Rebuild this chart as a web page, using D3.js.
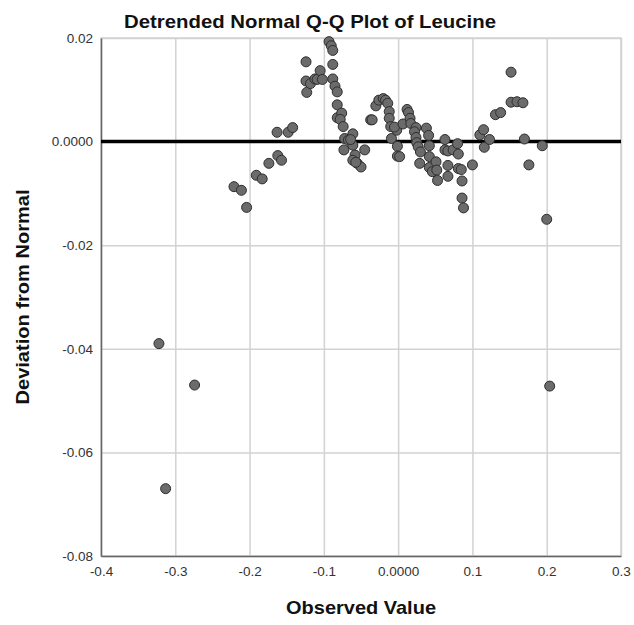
<!DOCTYPE html>
<html>
<head>
<meta charset="utf-8">
<script src="https://cdn.jsdelivr.net/npm/d3@7"></script>
<style>
  html, body { margin: 0; padding: 0; background: #fff; overflow: hidden; }
  svg { display: block; }
  text { font-family: "Liberation Sans", Arial, sans-serif; }
</style>
</head>
<body>
<svg></svg>
<script>
const width = 634;
const height = 625;

const observed = [
	-0.322, -0.313, -0.274,
	-0.221, -0.211, -0.204, -0.191, -0.183, -0.174, -0.162, -0.157, -0.163, -0.148, -0.142,
	-0.124, -0.124, -0.123, -0.118, -0.112, -0.109, -0.105, -0.102,
	-0.093, -0.090, -0.088, -0.088, -0.088, -0.085, -0.082, -0.082, -0.082, -0.076, -0.078, -0.074,
	-0.072, -0.067, -0.061, -0.061, -0.073, -0.058, -0.061, -0.055, -0.050, -0.045, -0.064, -0.057,
	-0.037, -0.035, -0.030, -0.026, -0.020, -0.017, -0.014, -0.012, -0.012, -0.010, -0.009, -0.002,
	-0.001, -0.001, -0.005, 0.002, 0.0065, 0.012, 0.014, 0.016, 0.017, 0.024, 0.022, 0.024,
	0.025, 0.027, 0.030, 0.029, 0.038, 0.041, 0.042, 0.042, 0.042, 0.046, 0.051, 0.052,
	0.053, 0.063, 0.063, 0.067, 0.067, 0.067, 0.074, 0.080, 0.081, 0.081, 0.085, 0.086,
	0.086, 0.088, 0.100,
	0.110, 0.115, 0.116, 0.123, 0.131, 0.138, 0.152, 0.152, 0.160, 0.168, 0.170, 0.176,
	0.194, 0.200, 0.204
];
const deviation = [
	-0.0390, -0.0670, -0.0470,
	-0.0087, -0.0094, -0.0127, -0.0065, -0.0072, -0.0042, -0.0027, -0.0036, 0.0018, 0.0018, 0.0027,
	0.0154, 0.0117, 0.0095, 0.0112, 0.0121, 0.0120, 0.0137, 0.0120,
	0.0193, 0.0185, 0.0176, 0.0149, 0.0121, 0.0107, 0.0096, 0.0071, 0.0046, 0.0055, 0.0043, 0.0029,
	0.0006, 0.0003, 0.0015, -0.0007, -0.0016, -0.0026, -0.0036, -0.0042, -0.0049, -0.0016, 0.0004, -0.0040,
	0.0042, 0.0042, 0.0069, 0.0080, 0.0083, 0.0080, 0.0074, 0.0058, 0.0045, 0.0029, 0.0006, 0.0022,
	-0.0009, -0.0028, 0.0028, -0.0029, 0.0034, 0.0062, 0.0056, 0.0045, 0.0035, 0.0027, 0.0019, 0.0008,
	-0.0002, -0.0010, -0.0020, -0.0042, 0.0026, 0.0012, -0.0008, -0.0029, -0.0050, -0.0058, -0.0039, -0.0055,
	-0.0075, 0.0004, -0.0016, -0.0018, -0.0046, -0.0067, -0.0016, -0.0004, -0.0024, -0.0052, -0.0054, -0.0076,
	-0.0109, -0.0128, -0.0045,
	0.0013, 0.0023, -0.0011, 0.0004, 0.0052, 0.0056, 0.0134, 0.0076, 0.0077, 0.0075, 0.0005, -0.0045,
	-0.0008, -0.0150, -0.0472
];
const xTicks = [-0.4, -0.3, -0.2, -0.1, 0, 0.1, 0.2, 0.3];
const yTicks = [0.02, 0, -0.02, -0.04, -0.06, -0.08];

const points = observed.map((d, i) => ({x: d, y: deviation[i]}));

const margin = {top: 38, right: 13, bottom: 69, left: 101};
const innerWidth = width - margin.left - margin.right;
const innerHeight = height - margin.top - margin.bottom;

const svg = d3.select('svg')
	.attr('width', width)
	.attr('height', height);

const xScale = d3.scaleLinear()
	.domain([-0.4, 0.3])
	.range([0, innerWidth]);
const yScale = d3.scaleLinear()
	.domain([-0.08, 0.02])
	.range([innerHeight, 0]);

const g = svg.append('g')
	.attr('transform', `translate(${margin.left}, ${margin.top})`);

// grid lines (no labels)
g.append('g')
	.attr('transform', `translate(0, ${innerHeight})`)
	.call(d3.axisBottom(xScale).tickValues(xTicks).tickSize(-innerHeight))
	.call(s => s.select('.domain').remove())
	.call(s => s.selectAll('text').remove())
	.selectAll('line')
		.attr('stroke', '#d2d2d2')
		.attr('stroke-width', 1.5);
g.append('g')
	.call(d3.axisLeft(yScale).tickValues(yTicks).tickSize(-innerWidth))
	.call(s => s.select('.domain').remove())
	.call(s => s.selectAll('text').remove())
	.selectAll('line')
		.attr('stroke', '#d2d2d2')
		.attr('stroke-width', 1.5);

// frame
g.append('rect')
	.attr('width', innerWidth)
	.attr('height', innerHeight)
	.attr('fill', 'none')
	.attr('stroke', '#d2d2d2')
	.attr('stroke-width', 1.5);

// plain hyphen instead of the unicode minus
const fmtX = d => d === 0 ? '0.0000' : d3.format('.1f')(d).replace('\u2212', '-');
const fmtY = d => d === 0 ? '0.0000' : d3.format('.2f')(d).replace('\u2212', '-');

const xAxisG = g.append('g')
	.attr('transform', `translate(0, ${innerHeight})`)
	.call(d3.axisBottom(xScale).tickValues(xTicks).tickSize(0).tickPadding(10).tickFormat(fmtX));
const yAxisG = g.append('g')
	.call(d3.axisLeft(yScale).tickValues(yTicks).tickSize(0).tickPadding(8).tickFormat(fmtY));

[xAxisG, yAxisG].forEach(a => {
	a.select('.domain').attr('stroke', '#666').attr('stroke-width', 1.5);
	a.selectAll('text')
		.attr('fill', '#333')
		.style('font-size', '13.5px');
});
yAxisG.selectAll('text').attr('dy', '0.32em');

// reference line at zero
g.append('line')
	.attr('x1', 0)
	.attr('x2', innerWidth)
	.attr('y1', yScale(0))
	.attr('y2', yScale(0))
	.attr('stroke', '#000')
	.attr('stroke-width', 3.5);

g.selectAll('circle').data(points)
	.enter().append('circle')
		.attr('cx', d => xScale(d.x))
		.attr('cy', d => yScale(d.y))
		.attr('r', 5)
		.attr('fill', '#6b6b6b')
		.attr('stroke', '#2e2e2e')
		.attr('stroke-width', 1);

svg.append('text')
	.attr('x', 310)
	.attr('y', 28)
	.attr('text-anchor', 'middle')
	.attr('textLength', 372)
	.attr('lengthAdjust', 'spacingAndGlyphs')
	.style('font-size', '19px')
	.style('font-weight', 'bold')
	.attr('fill', '#111')
	.text('Detrended Normal Q-Q Plot of Leucine');

svg.append('text')
	.attr('x', margin.left + innerWidth / 2)
	.attr('y', 614)
	.attr('text-anchor', 'middle')
	.attr('textLength', 150)
	.attr('lengthAdjust', 'spacingAndGlyphs')
	.style('font-size', '19px')
	.style('font-weight', 'bold')
	.attr('fill', '#111')
	.text('Observed Value');

svg.append('text')
	.attr('transform', `translate(29, ${margin.top + innerHeight / 2}) rotate(-90)`)
	.attr('text-anchor', 'middle')
	.attr('textLength', 215)
	.attr('lengthAdjust', 'spacingAndGlyphs')
	.style('font-size', '19px')
	.style('font-weight', 'bold')
	.attr('fill', '#111')
	.text('Deviation from Normal');
</script>
</body>
</html>
